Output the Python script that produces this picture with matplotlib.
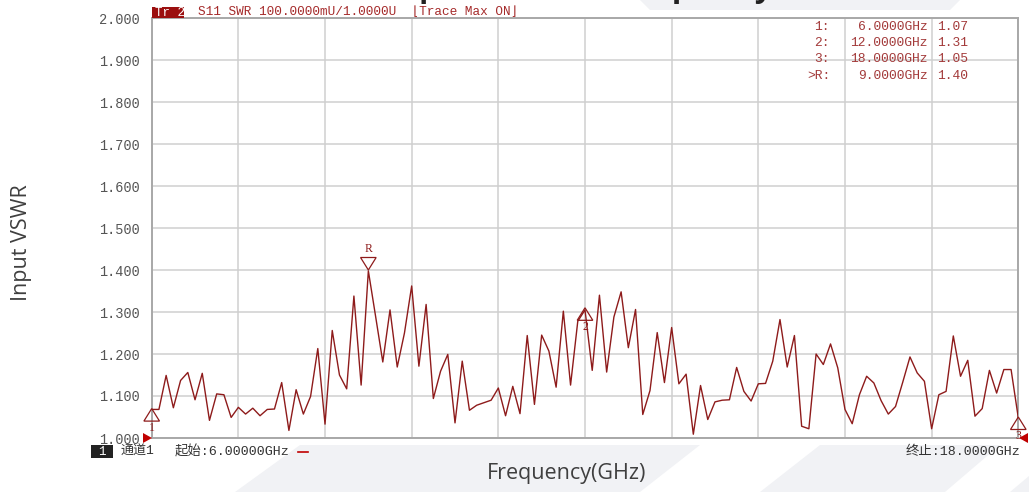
import matplotlib
matplotlib.use("Agg")
import matplotlib.pyplot as plt
from matplotlib.patches import Polygon, Rectangle
import numpy as np

# ---------------- data ----------------
freq_start_ghz = 6.0
freq_stop_ghz = 18.0
vswr = [
    1.068, 1.068, 1.149, 1.072, 1.137, 1.156, 1.091, 1.154, 1.042, 1.105,
    1.103, 1.049, 1.073, 1.057, 1.071, 1.053, 1.068, 1.069, 1.132, 1.018,
    1.115, 1.057, 1.099, 1.213, 1.033, 1.256, 1.150, 1.117, 1.338, 1.126,
    1.398, 1.290, 1.181, 1.305, 1.169, 1.250, 1.362, 1.171, 1.318, 1.094,
    1.159, 1.199, 1.036, 1.183, 1.066, 1.078, 1.084, 1.090, 1.119, 1.053,
    1.123, 1.058, 1.244, 1.080, 1.245, 1.207, 1.121, 1.302, 1.126, 1.278,
    1.305, 1.161, 1.340, 1.157, 1.288, 1.348, 1.215, 1.306, 1.056, 1.113,
    1.251, 1.132, 1.263, 1.129, 1.152, 1.009, 1.125, 1.044, 1.086, 1.090,
    1.091, 1.168, 1.111, 1.088, 1.129, 1.130, 1.183, 1.282, 1.169, 1.244,
    1.028, 1.022, 1.200, 1.175, 1.224, 1.167, 1.068, 1.034, 1.103, 1.147,
    1.131, 1.089, 1.057, 1.075, 1.133, 1.193, 1.155, 1.135, 1.022, 1.103,
    1.111, 1.243, 1.147, 1.185, 1.052, 1.070, 1.161, 1.107, 1.163, 1.163,
    1.048,
]
y_ticks = [1.0, 1.1, 1.2, 1.3, 1.4, 1.5, 1.6, 1.7, 1.8, 1.9, 2.0]
y_tick_labels = ["1.000", "1.100", "1.200", "1.300", "1.400", "1.500",
                 "1.600", "1.700", "1.800", "1.900", "2.000"]
marker_names = ["1", "2", "3", "R"]
marker_freqs = [6.0, 12.0, 18.0, 9.0]
marker_vals = [1.07, 1.31, 1.05, 1.40]
marker_table = [("1:", "6.0000GHz", "1.07"),
                ("2:", "12.0000GHz", "1.31"),
                ("3:", "18.0000GHz", "1.05"),
                (">R:", "9.0000GHz", "1.40")]

freq = np.linspace(freq_start_ghz, freq_stop_ghz, len(vswr))

# ---------------- figure ----------------
W, H = 1029, 492
fig = plt.figure(figsize=(W / 100, H / 100), dpi=100)
fig.patch.set_facecolor("white")


def fx(x):
    return x / W


def fy(y):
    return 1 - y / H


# decorative background shapes (slide template)
bg = "#f1f2f5"
for poly in [
    [(235, 492), (300, 445), (700, 445), (640, 492)],
    [(760, 492), (820, 445), (1000, 445), (945, 492)],
    [(1010, 492), (1029, 476), (1029, 492)],
    [(640, 0), (960, 0), (950, 10), (650, 10)],
]:
    fig.patches.append(Polygon([(fx(a), fy(b)) for a, b in poly], closed=True,
                               transform=fig.transFigure, facecolor=bg,
                               edgecolor="none", zorder=0))

L, R, T, B = 151.7, 1018.3, 18.0, 438.0
ax = fig.add_axes([fx(L), fy(B), (R - L) / W, (B - T) / H])
ax.set_facecolor("white")
ax.set_xlim(freq_start_ghz, freq_stop_ghz)
ax.set_ylim(1.0, 2.0)
ax.set_xticks(np.linspace(freq_start_ghz, freq_stop_ghz, 11))
ax.set_xticklabels([])
ax.set_yticks(y_ticks)
ax.set_yticklabels(y_tick_labels, family="Liberation Mono", fontsize=9.8,
                   color="#555555")
ax.tick_params(axis="both", length=0, pad=8.5)
ax.grid(True, color="#cfcfcf", lw=1.1)
ax.set_axisbelow(True)
for s in ax.spines.values():
    s.set_color("#a8a8a8")
    s.set_linewidth(1.4)

trace_c = "#8e1b1b"
ax.plot(freq, vswr, color=trace_c, lw=1.0, zorder=3)

# marker triangles
xs_per_px = (freq_stop_ghz - freq_start_ghz) / (R - L)
ys_per_px = 1.0 / (B - T)
hw, th = 7.8, 12.5
for name, f, v in zip(marker_names, marker_freqs, marker_vals):
    if name == "R":
        pts = [(f, v), (f - hw * xs_per_px, v + th * ys_per_px),
               (f + hw * xs_per_px, v + th * ys_per_px)]
        ax.text(f, v + (th + 2) * ys_per_px, name, ha="center", va="bottom",
                family="Liberation Serif", fontsize=8.5, color=trace_c,
                clip_on=False, zorder=5)
    else:
        pts = [(f, v), (f - hw * xs_per_px, v - th * ys_per_px),
               (f + hw * xs_per_px, v - th * ys_per_px)]
        ax.text(f, v - (th + 0.5) * ys_per_px, name, ha="center", va="top",
                family="Liberation Serif", fontsize=8.5, color=trace_c,
                clip_on=False, zorder=5)
    ax.add_patch(Polygon(pts, closed=True, facecolor="none",
                         edgecolor=trace_c, lw=0.9, clip_on=False, zorder=5))

# reference level arrows
red = "#c00000"
fig.patches.append(Polygon([(fx(143), fy(433)), (fx(152), fy(438)), (fx(143), fy(443))],
                           transform=fig.transFigure, facecolor=red,
                           edgecolor="none", zorder=6))
fig.patches.append(Polygon([(fx(1028), fy(433)), (fx(1019), fy(438)), (fx(1028), fy(443))],
                           transform=fig.transFigure, facecolor=red,
                           edgecolor="none", zorder=6))

# header
hdr_c = "#a52a2a"
fig.patches.append(Rectangle((fx(152), fy(17.5)), (184 - 152) / W, 10 / H,
                             transform=fig.transFigure, facecolor="#9b0f0f",
                             edgecolor="none", zorder=4))
fig.text(fx(155), fy(12.5), "Tr 2", family="Liberation Mono", fontsize=9,
         color="white", va="center", ha="left", zorder=5)
fig.text(fx(198), fy(12.5), "S11 SWR 100.0000mU/1.0000U  \u230aTrace Max ON\u230b",
         family=["Liberation Mono", "DejaVu Sans Mono"], fontsize=9.2,
         color=hdr_c, va="center", ha="left", zorder=5)

# marker table
tab_c = "#a33a3a"
row_y = [26.5, 43, 59.5, 76]
for (a, b, c), yy in zip(marker_table, row_y):
    fig.text(fx(830), fy(yy), a, family="Liberation Mono", fontsize=9.4,
             color=tab_c, ha="right", va="center")
    fig.text(fx(928), fy(yy), b, family="Liberation Mono", fontsize=9.4,
             color=tab_c, ha="right", va="center")
    fig.text(fx(937), fy(yy), c, family="Liberation Mono", fontsize=9.4,
             color=tab_c, ha="left", va="center")

# bottom status line
fig.patches.append(Rectangle((fx(91), fy(458)), 22 / W, 13 / H,
                             transform=fig.transFigure, facecolor="#222222",
                             edgecolor="none", zorder=4))
fig.text(fx(102), fy(452), "1", family="Liberation Mono", fontsize=9,
         color="white", ha="center", va="center", zorder=5)
cjk = ["Liberation Mono", "Noto Sans CJK SC"]
fig.text(fx(121), fy(452), "通道1", family=cjk, fontsize=9.4, color="#333333",
         ha="left", va="center")
fig.text(fx(175), fy(452), "起始:6.00000GHz", family=cjk, fontsize=9.6,
         color="#333333", ha="left", va="center")
fig.add_artist(plt.Line2D([fx(298), fx(308)], [fy(452), fy(452)],
                          transform=fig.transFigure, color=red, lw=1.2))
fig.text(fx(1020), fy(452), "终止:18.0000GHz", family=cjk, fontsize=9.6,
         color="#333333", ha="right", va="center")

# axis titles
fig.text(fx(22), fy(243), "Input VSWR", family="Open Sans", fontsize=15.5,
         color="#3f3f3f", rotation=90, ha="center", va="center")
fig.text(fx(567), fy(474), "Frequency(GHz)", family="Open Sans", fontsize=15.5,
         color="#3f3f3f", ha="center", va="center")

# slide title (cut off at top in the source, only descenders visible)
fig.text(fx(772), fy(-3), "Input VSWR vs Frequency", family="Open Sans",
         fontweight="bold", fontsize=22, color="#222222", ha="right",
         va="baseline")

fig.savefig("out.png", dpi=100, facecolor="white")
